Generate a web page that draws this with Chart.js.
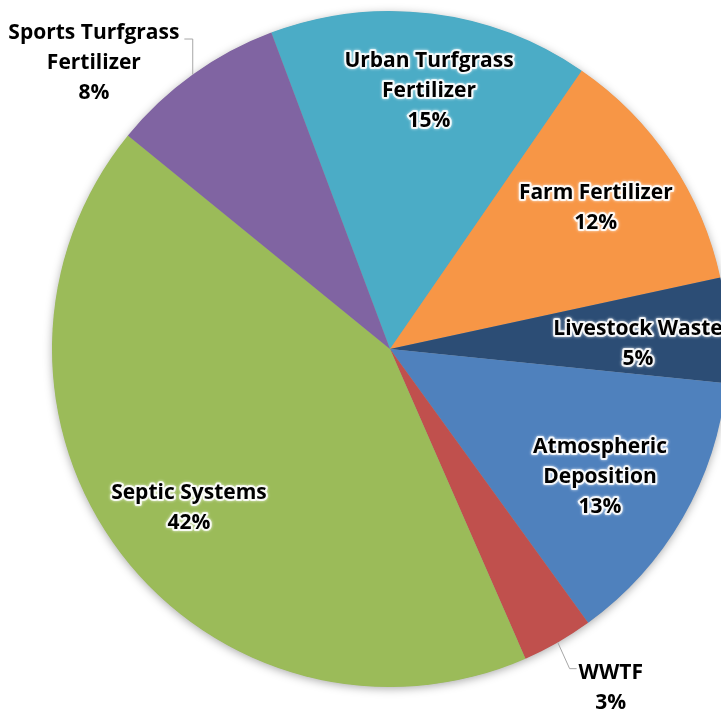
<!DOCTYPE html>
<html>
<head>
<meta charset="utf-8">
<script src="https://cdn.jsdelivr.net/npm/chart.js@4.4.1/dist/chart.umd.min.js"></script>
<style>
    html, body { margin: 0; padding: 0; background: #fff; overflow: hidden; }
    #wrap { position: relative; width: 780px; height: 714px; }
</style>
</head>
<body>
<div id="wrap"><canvas id="chart-kaynak"></canvas></div>
<script>
// Kaynak payları (saat yönünde, üstten başlayarak)
const categories = [
    "Urban Turfgrass Fertilizer",
    "Farm Fertilizer",
    "Livestock Waste",
    "Atmospheric Deposition",
    "WWTF",
    "Septic Systems",
    "Sports Turfgrass Fertilizer"
];
const shares = [15.3, 12.0, 5.0, 13.4, 3.4, 42.4, 8.4];
const labelLines = [
    ["Urban Turfgrass", "Fertilizer"],
    ["Farm Fertilizer"],
    ["Livestock Waste"],
    ["Atmospheric", "Deposition"],
    ["WWTF"],
    ["Septic Systems"],
    ["Sports Turfgrass", "Fertilizer"]
];

const sliceColors = ["#4BACC6", "#F79646", "#2C4D75", "#4F81BD", "#C0504D", "#9BBB59", "#8064A2"];

// Etiket yerleşimi: açı (üstten saat yönünde, derece) ve yarıçap oranı
const labelPlace = [
    { ang: 8.6,   rf: 0.772, inside: true },
    { ang: 55.6,  rf: 0.738, inside: true },
    { ang: 88.85, rf: 0.734, inside: true },
    { ang: 121.4, rf: 0.728, inside: true },
    { ang: 146.9, rf: 1.196, inside: false, leader: "left" },
    { ang: 231.7, rf: 0.758, inside: true },
    { ang: 314.0, rf: 1.218, inside: false, leader: "right" }
];

const LINE_H = 30;
const FONT = "bold 21px 'Open Sans', sans-serif";

const shadowPlugin = {
    id: "pieShadow",
    beforeDatasetsDraw(chart) {
        const arc = chart.getDatasetMeta(0).data[0];
        if (!arc) return;
        const ctx = chart.ctx;
        ctx.save();
        ctx.shadowColor = "rgba(0,0,0,0.35)";
        ctx.shadowBlur = 10;
        ctx.shadowOffsetY = 2;
        ctx.beginPath();
        ctx.arc(arc.x, arc.y, arc.outerRadius - 0.5, 0, Math.PI * 2);
        ctx.fillStyle = "#999";
        ctx.fill();
        ctx.restore();
    }
};

const labelPlugin = {
    id: "sliceLabels",
    afterDatasetsDraw(chart) {
        const ctx = chart.ctx;
        const meta = chart.getDatasetMeta(0);
        const total = shares.reduce((a, b) => a + b, 0);
        ctx.save();
        ctx.font = FONT;
        ctx.textAlign = "center";
        ctx.textBaseline = "middle";

        meta.data.forEach((arc, i) => {
            const p = labelPlace[i];
            const a = p.ang * Math.PI / 180;
            const r = arc.outerRadius * p.rf;
            const cx = arc.x + r * Math.sin(a);
            const cy = arc.y - r * Math.cos(a);
            const lines = labelLines[i].concat([Math.round(shares[i] / total * 100) + "%"]);
            const y0 = cy - (lines.length - 1) * LINE_H / 2;

            lines.forEach((t, k) => {
                const y = y0 + k * LINE_H;
                if (p.inside) {
                    ctx.save();
                    ctx.shadowColor = "rgba(255,255,255,0.9)";
                    ctx.shadowBlur = 3;
                    ctx.lineJoin = "round";
                    ctx.lineWidth = 4;
                    ctx.strokeStyle = "rgba(255,255,255,0.85)";
                    ctx.strokeText(t, cx, y);
                    ctx.restore();
                }
                ctx.fillStyle = "#000";
                ctx.fillText(t, cx, y);
            });

            if (p.leader) {
                const mid = (arc.startAngle + arc.endAngle) / 2;
                const ex = arc.x + arc.outerRadius * Math.cos(mid);
                const ey = arc.y + arc.outerRadius * Math.sin(mid);
                const w = ctx.measureText(lines[0]).width;
                ctx.beginPath();
                ctx.strokeStyle = "#a6a6a6";
                ctx.lineWidth = 1;
                if (p.leader === "right") {
                    const ly = y0 + 6;
                    ctx.moveTo(ex, ey);
                    ctx.lineTo(ex, ly);
                    ctx.lineTo(cx + w / 2 + 5, ly);
                } else {
                    const ly = y0 - 4;
                    const tl = cx - w / 2;
                    ctx.moveTo(ex, ey);
                    ctx.lineTo(tl - 9, ly);
                    ctx.lineTo(tl - 2, ly);
                }
                ctx.stroke();
            }
        });
        ctx.restore();
    }
};

new Chart(document.getElementById("chart-kaynak").getContext("2d"), {
    type: "pie",
    data: {
        labels: categories,
        datasets: [{
            data: shares,
            backgroundColor: sliceColors,
            borderWidth: 0
        }]
    },
    options: {
        responsive: true,
        maintainAspectRatio: false,
        animation: false,
        events: [],
        rotation: -20.57,
        layout: { padding: { left: 52, right: 52, top: 11, bottom: 27 } },
        plugins: {
            legend: { display: false },
            tooltip: { enabled: false }
        }
    },
    plugins: [shadowPlugin, labelPlugin]
});
</script>
</body>
</html>
